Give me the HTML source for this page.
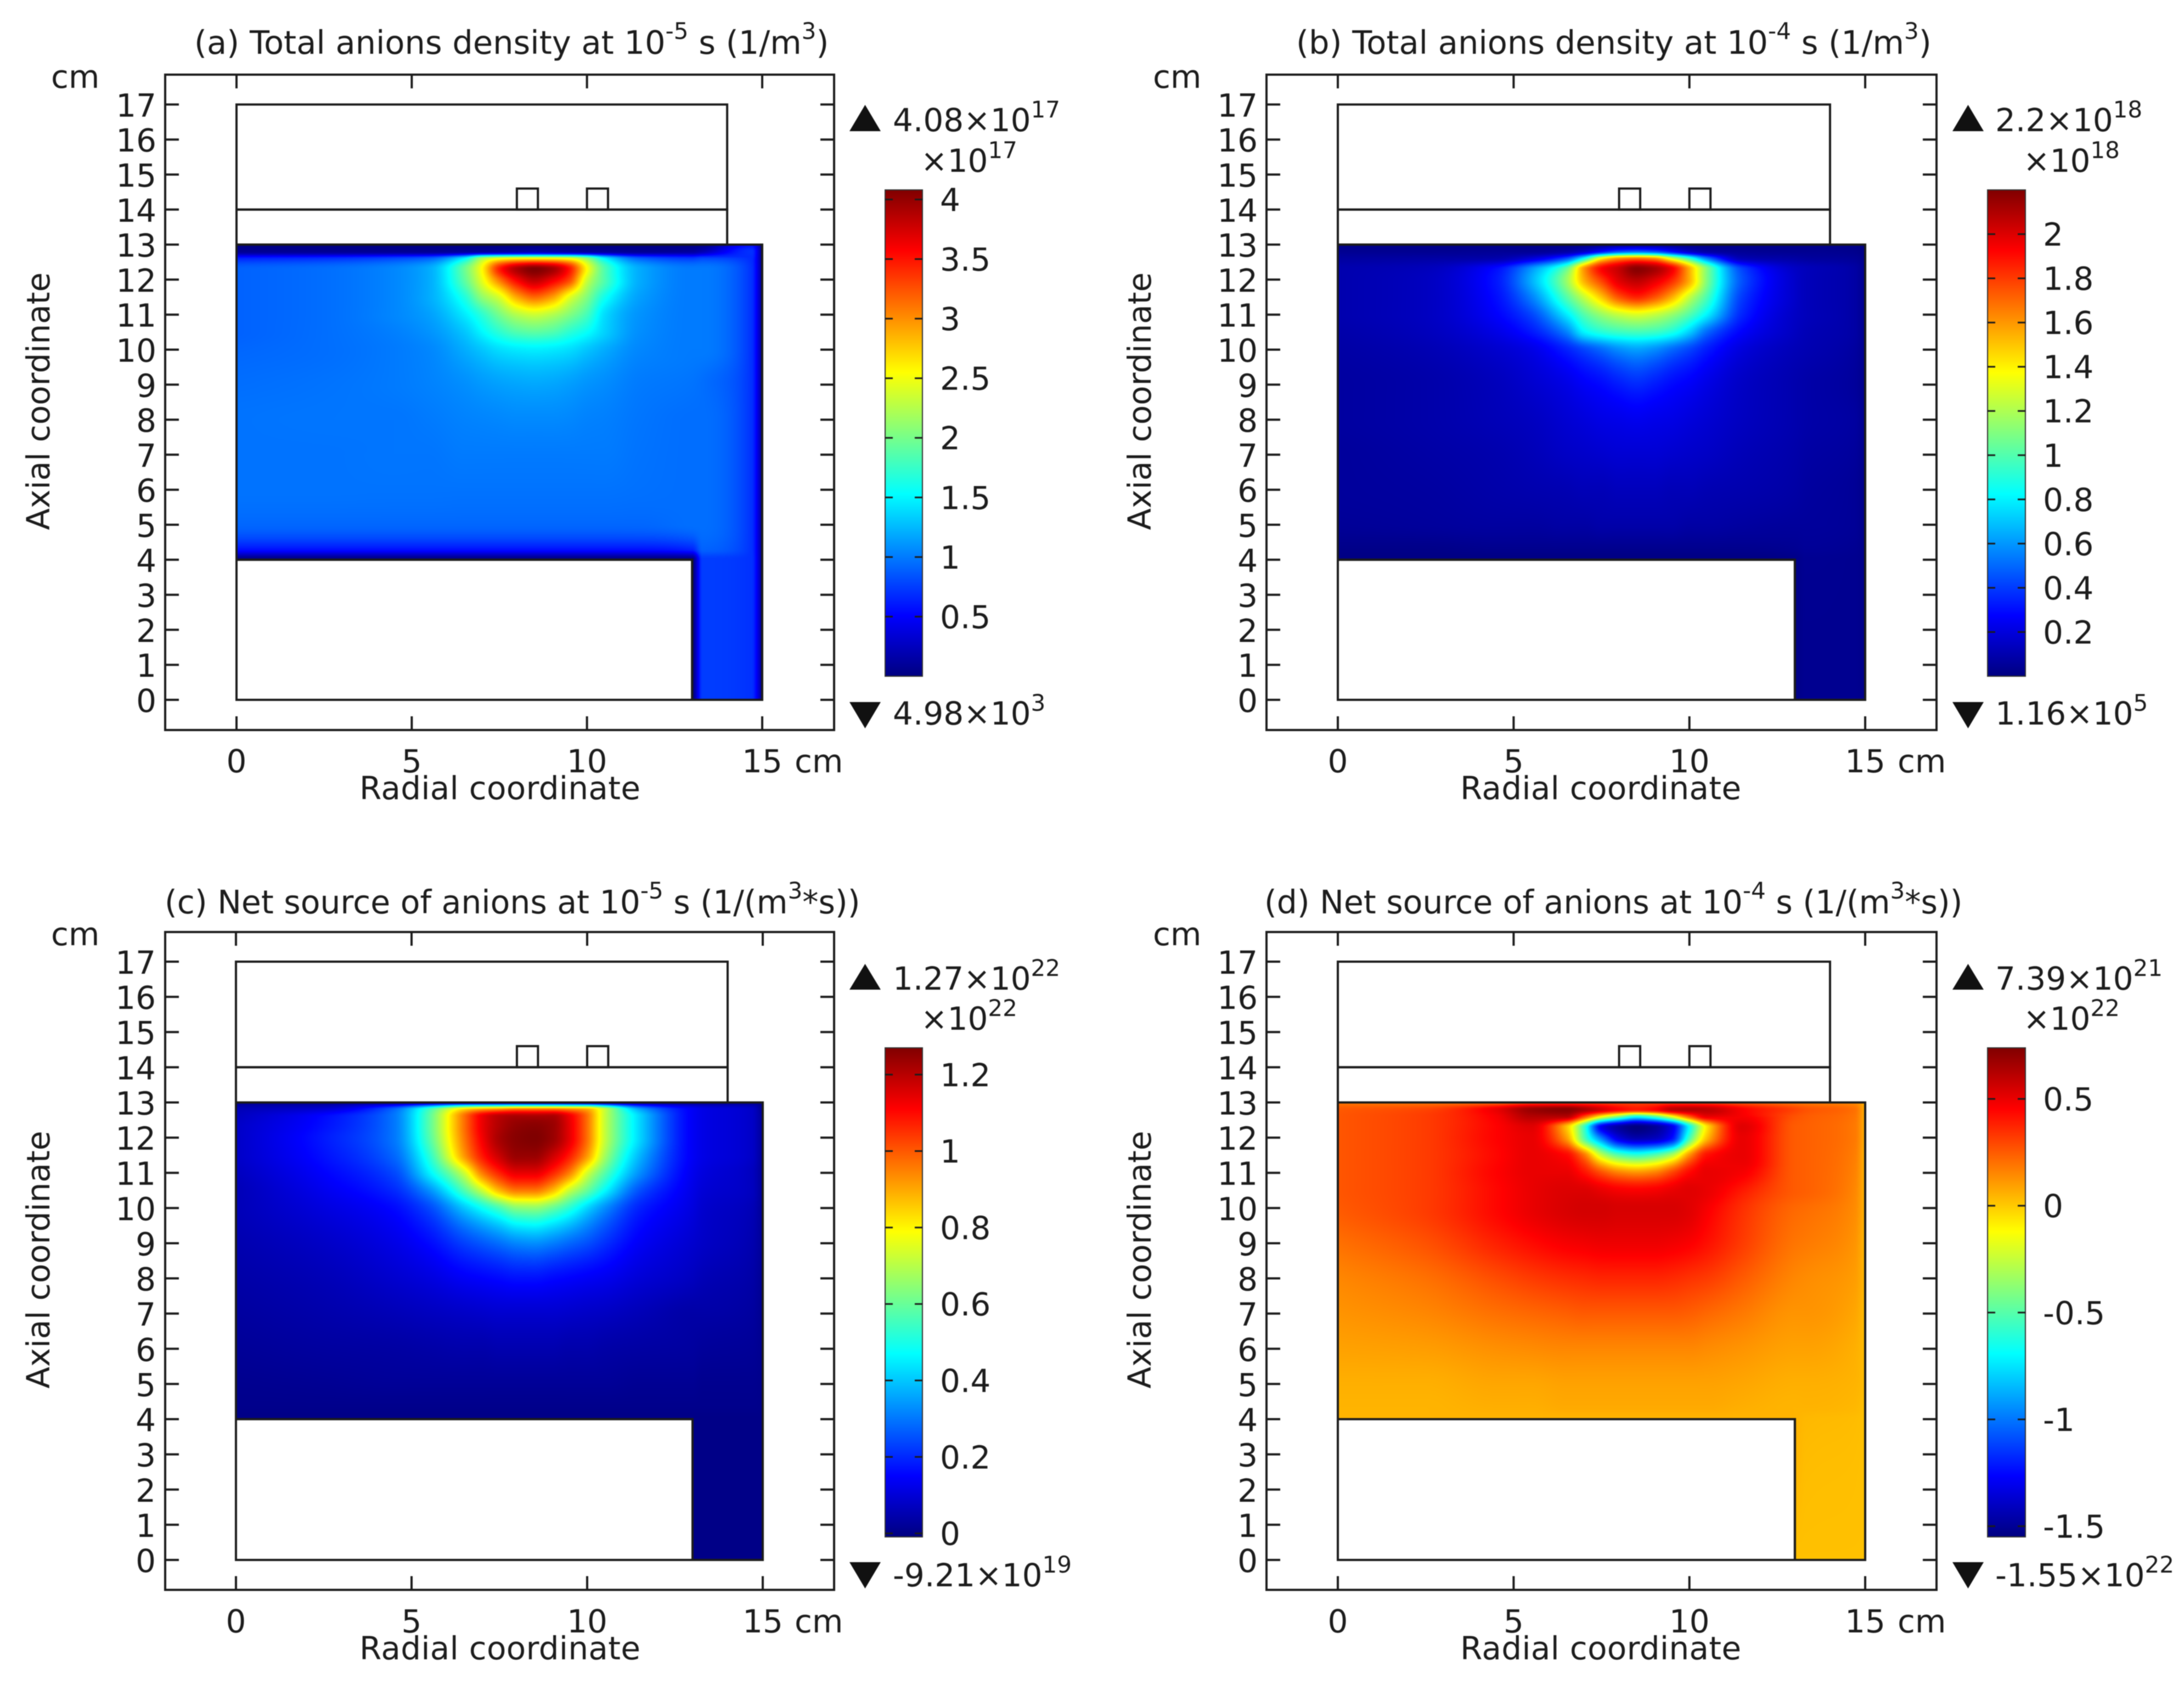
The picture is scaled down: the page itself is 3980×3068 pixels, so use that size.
<!DOCTYPE html>
<html lang="en">
<head>
<meta charset="utf-8">
<title>Anion density and net source panels</title>
<style>
html,body{margin:0;padding:0;background:#fff}
#root{position:relative;width:3980px;height:3068px;overflow:hidden;background:#fff}
canvas{position:absolute;display:block}
svg{position:absolute;left:0;top:0;filter:blur(0.8px)}
text{font-family:"DejaVu Sans","Liberation Sans",sans-serif;font-size:58px;fill:#1c1c1c}
text.title{font-size:59px}
text.title-net{font-size:58.4px}
.sup{font-size:42px}
</style>
</head>
<body>
<div id="root">
<canvas id="heat-a"></canvas>
<canvas id="heat-b"></canvas>
<canvas id="heat-c"></canvas>
<canvas id="heat-d"></canvas>
<svg id="overlay" width="3980" height="3068" viewBox="0 0 3980 3068" xmlns="http://www.w3.org/2000/svg">
  <defs>
    <linearGradient id="jet" x1="0" y1="1" x2="0" y2="0">
      <stop offset="0" stop-color="#000080"/><stop offset="0.125" stop-color="#0000ff"/>
      <stop offset="0.375" stop-color="#00ffff"/><stop offset="0.5" stop-color="#80ff80"/>
      <stop offset="0.625" stop-color="#ffff00"/><stop offset="0.875" stop-color="#ff0000"/>
      <stop offset="1" stop-color="#800000"/>
    </linearGradient>
  </defs>

  <text class="title" x="354" y="98">(a) Total anions density at 10<tspan class="sup" dy="-27">-5</tspan><tspan dy="27"> s (1/m</tspan><tspan class="sup" dy="-27">3</tspan><tspan dy="27">)</tspan></text>
  <text class="title" x="2362" y="98">(b) Total anions density at 10<tspan class="sup" dy="-27">-4</tspan><tspan dy="27"> s (1/m</tspan><tspan class="sup" dy="-27">3</tspan><tspan dy="27">)</tspan></text>
  <text class="title-net" x="300" y="1664">(c) Net source of anions at 10<tspan class="sup" dy="-27">-5</tspan><tspan dy="27"> s (1/(m</tspan><tspan class="sup" dy="-27">3</tspan><tspan dy="27">*s))</tspan></text>
  <text class="title-net" x="2304" y="1664">(d) Net source of anions at 10<tspan class="sup" dy="-27">-4</tspan><tspan dy="27"> s (1/(m</tspan><tspan class="sup" dy="-27">3</tspan><tspan dy="27">*s))</tspan></text>

  <text x="93" y="160">cm</text>
  <text x="2101" y="160">cm</text>
  <text x="93" y="1722">cm</text>
  <text x="2101" y="1722">cm</text>

  <text x="1448" y="1407">cm</text>
  <text x="3458" y="1407">cm</text>
  <text x="1448" y="2974">cm</text>
  <text x="3458" y="2974">cm</text>

  <text x="655" y="1456" textLength="512">Radial coordinate</text>
  <text x="2661" y="1456" textLength="512">Radial coordinate</text>
  <text x="655" y="3023" textLength="512">Radial coordinate</text>
  <text x="2661" y="3023" textLength="512">Radial coordinate</text>

  <text transform="translate(90,731) rotate(-90)" text-anchor="middle">Axial coordinate</text>
  <text transform="translate(2097,731) rotate(-90)" text-anchor="middle">Axial coordinate</text>
  <text transform="translate(90,2295) rotate(-90)" text-anchor="middle">Axial coordinate</text>
  <text transform="translate(2097,2295) rotate(-90)" text-anchor="middle">Axial coordinate</text>

  <polygon points="1548,239 1605,239 1576.5,191" fill="#111"/>
  <polygon points="1548,1279 1605,1279 1576.5,1327" fill="#111"/>
  <polygon points="3558,239 3615,239 3586.5,191" fill="#111"/>
  <polygon points="3558,1279 3615,1279 3586.5,1327" fill="#111"/>
  <polygon points="1548,1803 1605,1803 1576.5,1756" fill="#111"/>
  <polygon points="1548,2846 1605,2846 1576.5,2894" fill="#111"/>
  <polygon points="3558,1803 3615,1803 3586.5,1756" fill="#111"/>
  <polygon points="3558,2846 3615,2846 3586.5,2894" fill="#111"/>

  <text x="1627" y="239">4.08×10<tspan class="sup" dy="-25">17</tspan></text>
  <text x="1678" y="313">×10<tspan class="sup" dy="-25">17</tspan></text>
  <text x="1627" y="1320">4.98×10<tspan class="sup" dy="-25">3</tspan></text>

  <text x="3636" y="239">2.2×10<tspan class="sup" dy="-25">18</tspan></text>
  <text x="3687" y="313">×10<tspan class="sup" dy="-25">18</tspan></text>
  <text x="3636" y="1320">1.16×10<tspan class="sup" dy="-25">5</tspan></text>

  <text x="1627" y="1803">1.27×10<tspan class="sup" dy="-25">22</tspan></text>
  <text x="1678" y="1876">×10<tspan class="sup" dy="-25">22</tspan></text>
  <text x="1627" y="2890">-9.21×10<tspan class="sup" dy="-25">19</tspan></text>

  <text x="3636" y="1803">7.39×10<tspan class="sup" dy="-25">21</tspan></text>
  <text x="3687" y="1876">×10<tspan class="sup" dy="-25">22</tspan></text>
  <text x="3636" y="2890">-1.55×10<tspan class="sup" dy="-25">22</tspan></text>
</svg>
</div>

<script>
// Axis tick values (cm)
const xTickValues = [0, 5, 10, 15];
const yTickValues = [0, 1, 2, 3, 4, 5, 6, 7, 8, 9, 10, 11, 12, 13, 14, 15, 16, 17];

// Chamber geometry in cm: [r0, z0, r1, z1]
const geometryRects = [[0, 14, 14, 17], [0, 13, 14, 14], [8, 14, 8.6, 14.6], [10, 14, 10.6, 14.6], [0, 0, 13, 4]];
const domainOutline = [[0, 13], [15, 13], [15, 0], [13, 0], [13, 4], [0, 4]];

// Field sample locations (cm)
const gridRadial = [0, 2.5, 4.5, 5.5, 6.5, 7, 7.5, 8, 8.5, 9, 9.5, 10, 10.5, 11.5, 13, 13.3, 14.7, 15];
const gridAxial = [13, 12.8, 12.6, 12.3, 12, 11.5, 11, 10.5, 10, 9, 8, 7, 6, 5, 4.3, 4, 0];

// Panel (a), values in 1e17 1/m^3, rows follow gridAxial
const densityEarly = [
[.02,.02,.02,.02,.02,.02,.02,.02,.02,.02,.02,.02,.02,.02,.03,.05,.55,.02],
[.08,.08,.08,.08,.1,.1,.12,.15,.18,.15,.12,.1,.1,.08,.12,.2,.7,.05],
[.65,.7,.8,.9,1.5,2.2,2.5,2.6,2.62,2.6,2.5,2.1,1.5,.9,.75,.8,.68,.06],
[.9,.95,1.05,1.2,1.95,2.55,3.45,3.9,4.08,3.95,3.5,2.55,1.85,1.2,1.0,1.0,.7,.08],
[.9,.95,1.05,1.2,1.9,2.45,3.1,3.6,3.85,3.65,3.3,2.35,1.85,1.2,1.0,1.0,.7,.08],
[.9,.95,1.05,1.2,1.65,2.1,2.4,2.9,3.15,2.95,2.45,2.05,1.6,1.15,1.0,1.0,.7,.08],
[.9,.95,1.05,1.15,1.45,1.7,2.0,2.25,2.35,2.25,2.05,1.8,1.4,1.1,1.0,1.0,.7,.08],
[.9,.95,1.02,1.1,1.3,1.5,1.7,1.85,1.9,1.85,1.7,1.55,1.35,1.08,1.0,1.0,.7,.08],
[.92,.95,1.0,1.05,1.2,1.3,1.4,1.45,1.47,1.45,1.4,1.3,1.2,1.05,1.0,1.0,.7,.08],
[.95,.97,1.0,1.03,1.08,1.12,1.15,1.17,1.18,1.17,1.14,1.1,1.07,1.0,.97,.95,.7,.07],
[.97,.98,.98,1.0,1.03,1.04,1.05,1.06,1.06,1.06,1.05,1.03,1.02,.98,.95,.95,.7,.07],
[.97,.97,.98,.98,1.0,1.0,1.0,1.0,1.0,1.0,1.0,1.0,1.0,.97,.95,.95,.7,.07],
[.97,.97,.97,.97,.97,.97,.97,.97,.97,.97,.97,.97,.97,.96,.95,.95,.7,.07],
[.92,.92,.92,.92,.92,.92,.92,.92,.92,.92,.92,.92,.92,.92,.95,.95,.7,.07],
[.58,.58,.58,.58,.58,.58,.58,.58,.58,.58,.58,.58,.58,.58,.65,.9,.7,.07],
[.02,.02,.02,.02,.02,.02,.02,.02,.02,.02,.02,.02,.02,.02,.02,.75,.7,.07],
[.02,.02,.02,.02,.02,.02,.02,.02,.02,.02,.02,.02,.02,.02,.02,.75,.7,.07]
];

// Panel (b), values in 1e18 1/m^3
const densityLate = [
[.02,.02,.02,.02,.02,.02,.02,.03,.03,.03,.02,.02,.02,.02,.02,.02,.02,.0],
[.04,.04,.05,.05,.08,.15,.3,.45,.5,.45,.3,.15,.08,.05,.04,.04,.03,.01],
[.07,.08,.1,.2,.45,.85,1.4,1.62,1.68,1.62,1.3,.95,.55,.12,.08,.07,.05,.02],
[.1,.13,.3,.6,1.05,1.6,1.92,2.05,2.18,2.12,1.95,1.55,1.1,.42,.15,.13,.08,.03],
[.1,.14,.32,.65,1.15,1.55,1.8,2.0,2.08,2.0,1.85,1.55,1.1,.45,.16,.13,.08,.03],
[.1,.14,.3,.55,1.0,1.25,1.5,1.75,1.85,1.75,1.55,1.25,.98,.4,.16,.13,.08,.03],
[.1,.14,.27,.42,.78,1.0,1.15,1.25,1.3,1.25,1.15,1.0,.8,.35,.15,.13,.08,.03],
[.09,.13,.22,.32,.55,.8,.9,.95,.97,.95,.88,.72,.5,.27,.14,.12,.08,.03],
[.08,.11,.17,.22,.34,.42,.5,.58,.62,.58,.5,.42,.33,.2,.12,.11,.07,.03],
[.07,.09,.13,.17,.22,.26,.29,.33,.36,.33,.29,.26,.22,.15,.1,.09,.06,.025],
[.07,.09,.12,.14,.18,.2,.22,.23,.24,.23,.22,.2,.18,.14,.1,.09,.07,.03],
[.06,.08,.1,.12,.15,.16,.17,.18,.18,.18,.17,.16,.15,.12,.09,.08,.06,.025],
[.06,.07,.09,.1,.11,.12,.12,.13,.13,.13,.12,.12,.11,.1,.08,.07,.05,.02],
[.05,.06,.07,.07,.08,.08,.09,.09,.09,.09,.09,.08,.08,.07,.06,.06,.05,.02],
[.02,.02,.03,.03,.03,.03,.03,.03,.03,.03,.03,.03,.03,.03,.04,.05,.04,.02],
[.01,.01,.01,.01,.01,.01,.01,.01,.01,.01,.01,.01,.01,.01,.02,.04,.035,.02],
[.01,.01,.01,.01,.01,.01,.01,.01,.01,.01,.01,.01,.01,.01,.015,.035,.035,.02]
];

// Panel (c), values in 1e22 1/(m^3 s)
const sourceEarly = [
[.01,.01,.01,.01,.01,.01,.015,.02,.02,.02,.015,.01,.01,.01,.01,.01,.01,.0],
[.06,.1,.28,.55,.85,.92,.95,.98,.98,.98,.95,.9,.72,.36,.14,.12,.08,.01],
[.07,.16,.3,.58,.97,1.13,1.2,1.22,1.22,1.22,1.13,.97,.72,.42,.14,.12,.08,.02],
[.08,.17,.3,.58,.97,1.13,1.21,1.25,1.26,1.24,1.14,.97,.72,.42,.14,.12,.08,.02],
[.08,.18,.3,.57,.96,1.12,1.22,1.26,1.27,1.24,1.14,.97,.72,.42,.14,.12,.08,.02],
[.08,.17,.28,.52,.92,1.08,1.18,1.24,1.24,1.18,1.08,.92,.68,.38,.14,.12,.08,.02],
[.07,.15,.24,.45,.73,.95,1.07,1.14,1.14,1.07,.95,.74,.58,.33,.13,.11,.07,.02],
[.06,.13,.2,.33,.57,.72,.88,.96,.96,.88,.72,.6,.47,.25,.12,.1,.07,.02],
[.06,.11,.16,.24,.4,.48,.56,.64,.65,.6,.52,.42,.33,.19,.11,.09,.06,.02],
[.05,.08,.12,.16,.23,.26,.29,.32,.33,.31,.28,.25,.21,.14,.09,.08,.05,.02],
[.04,.06,.09,.11,.14,.15,.16,.17,.17,.16,.15,.14,.13,.1,.07,.06,.04,.015],
[.03,.045,.06,.07,.08,.085,.09,.09,.09,.09,.085,.08,.075,.06,.04,.04,.03,.01],
[.02,.03,.035,.04,.045,.045,.05,.05,.05,.05,.045,.045,.04,.035,.03,.025,.02,.01],
[.01,.015,.02,.02,.02,.02,.02,.02,.02,.02,.02,.02,.02,.015,.015,.01,.01,.005],
[.005,.005,.005,.005,.005,.005,.005,.005,.005,.005,.005,.005,.005,.005,.005,.005,.005,.003],
[.0,.0,.0,.0,.0,.0,.0,.0,.0,.0,.0,.0,.0,.0,.0,.0,.0,.0],
[.0,.0,.0,.0,.0,.0,.0,.0,.0,.0,.0,.0,.0,.0,.0,.0,.0,.0]
];

// Panel (d), values in 1e22 1/(m^3 s)
const sourceLate = [
[.18,.18,.2,.28,.3,.3,.3,.3,.3,.3,.3,.3,.3,.25,.18,.17,.14,.05],
[.25,.3,.5,.68,.72,.65,.55,.45,.4,.45,.6,.62,.6,.46,.3,.27,.2,.06],
[.26,.32,.47,.62,.62,.3,-.1,-.4,-.65,-.5,-.15,.25,.5,.47,.27,.25,.19,.06],
[.26,.32,.45,.52,.02,-.55,-1.3,-1.48,-1.55,-1.5,-1.32,-.68,-.06,.52,.25,.24,.18,.06],
[.26,.32,.45,.5,.1,-.5,-1.0,-1.35,-1.45,-1.42,-1.25,-.55,.02,.5,.25,.24,.18,.06],
[.26,.32,.44,.5,.44,.2,-.25,-.5,-.58,-.5,-.3,.13,.42,.5,.25,.24,.17,.05],
[.26,.32,.45,.5,.5,.42,.28,.17,.13,.17,.3,.44,.5,.47,.25,.24,.16,.05],
[.26,.32,.44,.5,.53,.53,.5,.47,.46,.47,.5,.52,.5,.4,.25,.24,.15,.05],
[.25,.32,.44,.5,.54,.55,.55,.54,.54,.54,.54,.52,.47,.35,.22,.21,.14,.05],
[.2,.27,.38,.43,.47,.48,.49,.49,.49,.49,.48,.46,.42,.32,.19,.18,.12,.04],
[.15,.2,.28,.32,.35,.36,.37,.37,.37,.37,.36,.34,.32,.25,.15,.14,.1,.04],
[.12,.15,.2,.22,.24,.25,.25,.25,.25,.25,.25,.24,.22,.18,.12,.12,.08,.03],
[.09,.1,.13,.14,.15,.15,.15,.15,.15,.15,.15,.15,.14,.12,.09,.09,.06,.03],
[.06,.06,.08,.08,.09,.09,.09,.09,.09,.09,.09,.09,.09,.08,.06,.06,.05,.03],
[.05,.05,.06,.06,.07,.07,.07,.07,.07,.07,.07,.07,.07,.06,.05,.05,.04,.02],
[.05,.05,.05,.05,.05,.05,.05,.05,.05,.05,.05,.05,.05,.05,.05,.04,.03,.02],
[.02,.02,.02,.02,.02,.02,.02,.02,.02,.02,.02,.02,.02,.02,.02,.02,.02,.02]
];

// Colour ranges and colourbar tick labels
const rangeA = [0, 4.08];
const rangeB = [0, 2.2];
const rangeC = [-0.0092, 1.27];
const rangeD = [-1.55, 0.739];
const colorbarTicksA = [0.5, 1, 1.5, 2, 2.5, 3, 3.5, 4];
const colorbarTicksB = [0.2, 0.4, 0.6, 0.8, 1, 1.2, 1.4, 1.6, 1.8, 2];
const colorbarTicksC = [0, 0.2, 0.4, 0.6, 0.8, 1, 1.2];
const colorbarTicksD = [-1.5, -1, -0.5, 0, 0.5];

const SVG_NS = 'http://www.w3.org/2000/svg';
const overlay = document.getElementById('overlay');

function shape(tag, attrs, parent) {
  const el = document.createElementNS(SVG_NS, tag);
  for (const k in attrs) el.setAttribute(k, attrs[k]);
  (parent || overlay).appendChild(el);
  return el;
}

function linear(d0, d1, r0, r1) {
  const f = v => r0 + (v - d0) * (r1 - r0) / (d1 - d0);
  f.invert = p => d0 + (p - r0) * (d1 - d0) / (r1 - r0);
  return f;
}

function jet(t) {
  const c = v => Math.max(0, Math.min(1, v));
  return [c(1.5 - Math.abs(4 * t - 3)) * 255, c(1.5 - Math.abs(4 * t - 2)) * 255, c(1.5 - Math.abs(4 * t - 1)) * 255];
}

// Shape-preserving slopes so the display surface never overshoots the read values
function slopes(xs, f) {
  const n = xs.length, h = [], s = [], d = new Array(n);
  for (let i = 0; i < n - 1; i++) { h[i] = xs[i + 1] - xs[i]; s[i] = (f[i + 1] - f[i]) / h[i]; }
  d[0] = s[0]; d[n - 1] = s[n - 2];
  for (let i = 1; i < n - 1; i++) {
    if (s[i - 1] * s[i] <= 0) { d[i] = 0; continue; }
    const w1 = 2 * h[i] + h[i - 1], w2 = h[i] + 2 * h[i - 1];
    d[i] = (w1 + w2) / (w1 / s[i - 1] + w2 / s[i]);
  }
  return d;
}

function hermite(x0, x1, f0, f1, d0, d1, x) {
  const h = x1 - x0, t = (x - x0) / h, t2 = t * t, t3 = t2 * t;
  return (2 * t3 - 3 * t2 + 1) * f0 + (t3 - 2 * t2 + t) * h * d0 + (-2 * t3 + 3 * t2) * f1 + (t3 - t2) * h * d1;
}

function segment(xs, x) {
  let i = 0;
  while (i < xs.length - 2 && x > xs[i + 1]) i++;
  return i;
}

function drawHeatmap(canvasId, rows, range, xScale, yScale) {
  const canvas = document.getElementById(canvasId);
  const left = Math.round(xScale(0)), right = Math.round(xScale(15));
  const top = Math.round(yScale(13)), bottom = Math.round(yScale(0));
  const W = right - left, H = bottom - top;
  canvas.width = W; canvas.height = H;
  canvas.style.left = left + 'px'; canvas.style.top = top + 'px';
  const ctx = canvas.getContext('2d');
  const img = ctx.createImageData(W, H);
  const zAsc = gridAxial.slice().reverse();
  const ordered = rows.slice().reverse();
  const columnSlopes = gridRadial.map((_, j) => slopes(zAsc, ordered.map(r => r[j])));
  const span = range[1] - range[0];
  for (let py = 0; py < H; py++) {
    const z = yScale.invert(top + py + 0.5);
    const iz = segment(zAsc, z);
    const rowVals = gridRadial.map((_, j) => hermite(zAsc[iz], zAsc[iz + 1], ordered[iz][j], ordered[iz + 1][j], columnSlopes[j][iz], columnSlopes[j][iz + 1], z));
    const rowSlopes = slopes(gridRadial, rowVals);
    for (let px = 0; px < W; px++) {
      const r = xScale.invert(left + px + 0.5);
      if (z < 4 && r < 13) continue;
      const ir = segment(gridRadial, r);
      const v = hermite(gridRadial[ir], gridRadial[ir + 1], rowVals[ir], rowVals[ir + 1], rowSlopes[ir], rowSlopes[ir + 1], r);
      const t = Math.max(0, Math.min(1, (v - range[0]) / span));
      const c = jet(t), o = (py * W + px) * 4;
      img.data[o] = c[0]; img.data[o + 1] = c[1]; img.data[o + 2] = c[2]; img.data[o + 3] = 255;
    }
  }
  ctx.putImageData(img, 0, 0);
}

function drawPanel(p) {
  const xScale = linear(0, 15, p.x0, p.x15);
  const yScale = linear(0, 17, p.y0, p.y17);
  drawHeatmap(p.canvas, p.rows, p.range, xScale, yScale);
  const g = shape('g', {stroke: '#1c1c1c', 'stroke-width': 4, fill: 'none'});
  
  

  geometryRects.forEach(function (q) {
    const rect = shape('rect', {x: xScale(q[0]), y: yScale(q[3]), width: xScale(q[2]) - xScale(q[0]), height: yScale(q[1]) - yScale(q[3])}, g);
    
    
  });
  const outline = shape('polygon', {points: domainOutline.map(q => xScale(q[0]) + ',' + yScale(q[1])).join(' ')}, g);
  
  

  const frame = shape('rect', {x: p.left, y: p.top, width: p.right - p.left, height: p.bottom - p.top}, g);
  
  

  xTickValues.forEach(function (v) {
    const x = xScale(v);
    const tickB = shape('line', {x1: x, x2: x, y1: p.bottom, y2: p.bottom - 25}, g);
    
    
    const tickT = shape('line', {x1: x, x2: x, y1: p.top, y2: p.top + 25}, g);
    
    
    const label = shape('text', {x: x, y: p.xLabelY, 'text-anchor': 'middle'});
    label.textContent = String(v);
    
    
  });

  yTickValues.forEach(function (v) {
    const y = yScale(v);
    const tickL = shape('line', {x1: p.left, x2: p.left + 25, y1: y, y2: y}, g);
    
    
    const tickR = shape('line', {x1: p.right, x2: p.right - 25, y1: y, y2: y}, g);
    
    
    const label = shape('text', {x: p.x0 - 146, y: y + 22, 'text-anchor': 'end'});
    label.textContent = String(v);
    
    
  });

  const cbScale = linear(p.range[0], p.range[1], p.cbBottom, p.cbTop);
  const bar = shape('rect', {x: p.cbLeft, y: p.cbTop, width: p.cbRight - p.cbLeft, height: p.cbBottom - p.cbTop, fill: 'url(#jet)', stroke: '#333', 'stroke-width': 2});
  
  
  p.ticks.forEach(function (v) {
    const y = cbScale(v);
    const a = shape('line', {x1: p.cbLeft, x2: p.cbLeft + 14, y1: y, y2: y, stroke: '#1c1c1c', 'stroke-width': 3});
    
    
    const b = shape('line', {x1: p.cbRight, x2: p.cbRight - 14, y1: y, y2: y, stroke: '#1c1c1c', 'stroke-width': 3});
    
    
    const label = shape('text', {x: p.cbRight + 32, y: y + 21});
    label.textContent = String(v);
    
    
  });
}

drawPanel({id: 'a', canvas: 'heat-a', rows: densityEarly, range: rangeA, ticks: colorbarTicksA,
  x0: 431, x15: 1389, y0: 1275, y17: 190.4, left: 301, right: 1520, top: 136, bottom: 1330, xLabelY: 1407,
  cbLeft: 1613, cbRight: 1681, cbTop: 346, cbBottom: 1232});
drawPanel({id: 'b', canvas: 'heat-b', rows: densityLate, range: rangeB, ticks: colorbarTicksB,
  x0: 2438, x15: 3399, y0: 1275, y17: 190.4, left: 2308, right: 3529, top: 136, bottom: 1330, xLabelY: 1407,
  cbLeft: 3622, cbRight: 3691, cbTop: 346, cbBottom: 1232});
drawPanel({id: 'c', canvas: 'heat-c', rows: sourceEarly, range: rangeC, ticks: colorbarTicksC,
  x0: 430, x15: 1390, y0: 2842, y17: 1752, left: 301, right: 1520, top: 1698, bottom: 2896.5, xLabelY: 2974,
  cbLeft: 1613, cbRight: 1681, cbTop: 1909, cbBottom: 2800});
drawPanel({id: 'd', canvas: 'heat-d', rows: sourceLate, range: rangeD, ticks: colorbarTicksD,
  x0: 2438, x15: 3399, y0: 2842, y17: 1752, left: 2308, right: 3529, top: 1698, bottom: 2896.5, xLabelY: 2974,
  cbLeft: 3622, cbRight: 3691, cbTop: 1909, cbBottom: 2800});
</script>
</body>
</html>
